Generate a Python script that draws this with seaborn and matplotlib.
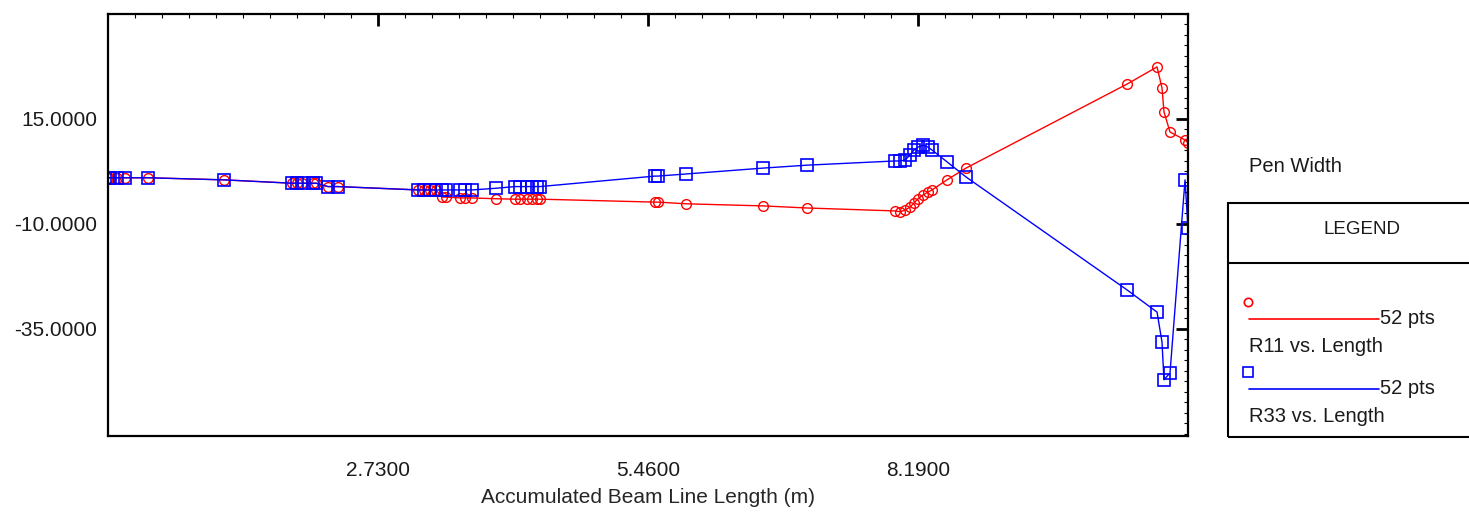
import pandas as pd
import matplotlib.pyplot as plt
import seaborn as sns
from matplotlib.ticker import MultipleLocator, FormatStrFormatter
from matplotlib.lines import Line2D
from matplotlib.patches import Rectangle

# accumulated length along the beam line (m)
length_m = [0.000, 0.020, 0.091, 0.172, 0.404, 1.173, 1.860, 1.911, 1.962, 2.073,
            2.103, 2.224, 2.326, 3.135, 3.195, 3.256, 3.316, 3.377, 3.418, 3.559,
            3.610, 3.681, 3.923, 4.115, 4.166, 4.237, 4.287, 4.338, 4.368, 5.531,
            5.561, 5.844, 6.623, 7.068, 7.958, 8.008, 8.059, 8.109, 8.150, 8.190,
            8.241, 8.291, 8.332, 8.483, 8.675, 10.303, 10.607, 10.657, 10.677, 10.738,
            10.890, 10.920]

r11 = [1.0, 1.0, 1.0, 1.0, 1.0, 0.5, -0.3, -0.3, -0.3, -0.3,
       -0.3, -1.1, -1.1, -1.9, -1.9, -1.9, -1.9, -3.6, -3.6, -3.8,
       -3.8, -3.8, -4.0, -4.1, -4.1, -4.1, -4.1, -4.1, -4.1, -4.8,
       -4.8, -5.2, -5.7, -6.2, -6.9, -7.1, -6.7, -6.0, -5.0, -4.0,
       -3.1, -2.4, -1.9, 0.5, 3.3, 23.3, 27.4, 22.4, 16.7, 11.9,
       10.0, 9.3]

r33 = [1.0, 1.0, 1.0, 1.0, 1.0, 0.5, -0.3, -0.3, -0.3, -0.3,
       -0.3, -1.1, -1.1, -1.9, -1.9, -1.9, -1.9, -1.9, -1.9, -1.9,
       -1.9, -1.9, -1.5, -1.1, -1.1, -1.1, -1.1, -1.1, -1.1, 1.4,
       1.4, 1.9, 3.3, 4.0, 5.0, 5.0, 5.2, 6.4, 7.6, 8.3,
       8.8, 8.3, 7.6, 4.8, 1.2, -25.7, -31.0, -38.1, -47.1, -45.5,
       0.5, -11.0]

x_ticks = [2.73, 5.46, 8.19]
y_ticks = [-35, -10, 15]

df = pd.DataFrame({'length': length_m, 'R11': r11, 'R33': r33})

sns.set_style("white")
plt.rcParams['font.family'] = ['Liberation Sans', 'DejaVu Sans']

W, H = 1469, 513
fx = lambda px: px / W
fy = lambda py: 1 - py / H

fig = plt.figure(figsize=(W / 100, H / 100), dpi=100)
ax = fig.add_axes([fx(108), fy(436), (1188 - 108) / W, (436 - 14) / H])

sns.lineplot(data=df, x='length', y='R11', ax=ax, color='#ff0000', lw=1,
             marker='o', ms=7, mfc='none', mec='#ff0000', mew=1,
             estimator=None, sort=False)
sns.lineplot(data=df, x='length', y='R33', ax=ax, color='#0000ff', lw=1,
             marker='s', ms=8, mfc='none', mec='#0000ff', mew=1.2,
             estimator=None, sort=False)

ax.set_xlim(0, 10.92)
ax.set_ylim(-60.5, 40)
ax.set_xticks(x_ticks)
ax.set_yticks(y_ticks)
ax.xaxis.set_minor_locator(MultipleLocator(0.273))
ax.yaxis.set_minor_locator(MultipleLocator(2.5))
ax.xaxis.set_major_formatter(FormatStrFormatter('%.4f'))
ax.yaxis.set_major_formatter(FormatStrFormatter('%.4f'))
ax.tick_params(which='both', direction='in', top=True, right=True, colors='black')
ax.tick_params(which='major', length=8.5, width=2, labelsize=15, labelcolor='#1a1a1a')
ax.tick_params(axis='x', which='major', pad=18)
ax.tick_params(axis='y', which='major', pad=8)
ax.tick_params(which='minor', length=3, width=0.8)
for s in ax.spines.values():
    s.set_linewidth(1.6)
    s.set_color('black')

ax.set_xlabel('Accumulated Beam Line Length (m)', fontsize=15, labelpad=6)
ax.set_ylabel('')

# legend panel on the right
fs = 14.5
fig.text(fx(1249), fy(167), 'Pen Width', fontsize=fs, va='center', ha='left', color='#1a1a1a')
fig.add_artist(Rectangle((fx(1228), fy(437)), fx(1520) - fx(1228), (437 - 203) / H,
                         transform=fig.transFigure, fill=False, lw=1.5, ec='black'))
fig.add_artist(Line2D([fx(1228), 1.0], [fy(263), fy(263)], transform=fig.transFigure,
                      color='black', lw=1.5))
fig.text(fx(1362), fy(229), 'LEGEND', fontsize=fs - 1, va='center', ha='center', color='#1a1a1a')

for color, mk, ms, y0, name in [('#ff0000', 'o', 6, 302, 'R11 vs. Length'),
                                ('#0000ff', 's', 7, 372, 'R33 vs. Length')]:
    fig.add_artist(Line2D([fx(1248)], [fy(y0)], transform=fig.transFigure, marker=mk,
                          ms=ms, mfc='none', mec=color, mew=1.2, lw=0))
    fig.add_artist(Line2D([fx(1249), fx(1379)], [fy(y0 + 17)] * 2, transform=fig.transFigure,
                          color=color, lw=1.2))
    fig.text(fx(1380), fy(y0 + 17), '52 pts', fontsize=fs, va='center', ha='left', color='#1a1a1a')
    fig.text(fx(1249), fy(y0 + 45), name, fontsize=fs, va='center', ha='left', color='#1a1a1a')

plt.savefig('out.png', dpi=100)
